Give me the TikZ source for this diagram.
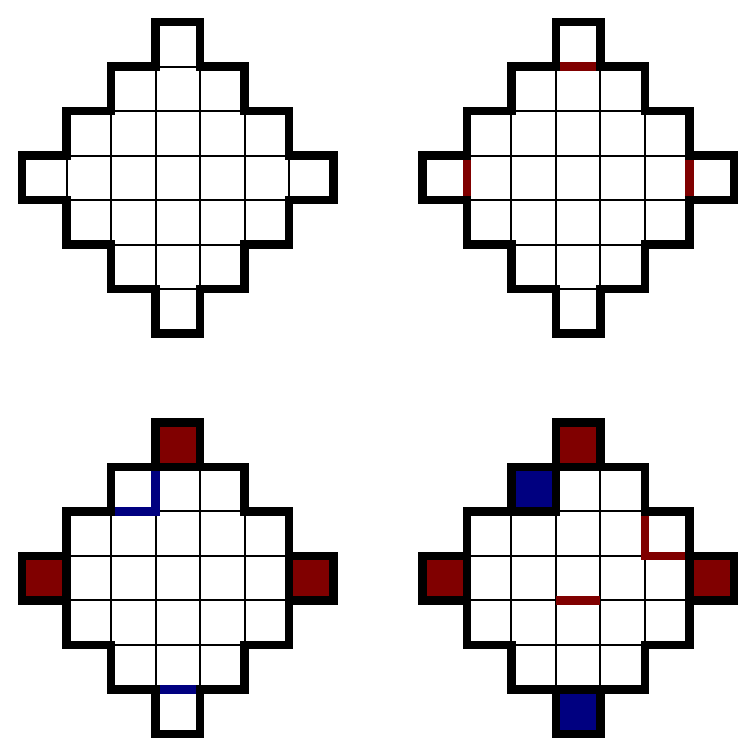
\documentclass[tikz,border=0pt]{standalone}
\usepackage{tikz}
\definecolor{wallred}{HTML}{800000}
\definecolor{wallblue}{HTML}{000080}

\begin{document}
\begin{tikzpicture}[line join=miter,
  gridline/.style={line width=0.045cm},
  outline/.style={line width=0.19cm},
  redwall/.style={line width=0.19cm, wallred},
  bluewall/.style={line width=0.19cm, wallblue},
  redcell/.style={outline, fill=wallred},
  bluecell/.style={outline, fill=wallblue}]

\useasboundingbox (0,0) rectangle (17,17);

\foreach \dx/\dy in {0.5/9.5, 9.5/9.5, 0.5/0.5, 9.5/0.5}
  \foreach \y/\a/\b in {6/3/3, 5/2/4, 4/1/5, 3/0/6, 2/1/5, 1/2/4, 0/3/3}
    \foreach \x in {\a,...,\b}
      \draw[gridline, shift={(\dx,\dy)}] (\x,\y) rectangle ++(1,1);

\begin{scope}[shift={(9.5,9.5)}]
\draw[redwall] (3,6) -- (4,6);
\draw[redwall] (1,3) -- (1,4);
\draw[redwall] (6,3) -- (6,4);
\end{scope}

\begin{scope}[shift={(0.5,0.5)}]
\draw[bluewall] (3,6) -- (3,5) -- (2,5);
\draw[bluewall] (3,1) -- (4,1);
\filldraw[redcell] (3,6) rectangle (4,7);
\filldraw[redcell] (0,3) rectangle (1,4);
\filldraw[redcell] (6,3) rectangle (7,4);
\end{scope}

\begin{scope}[shift={(9.5,0.5)}]
\draw[redwall] (5,5) -- (5,4) -- (6,4);
\draw[redwall] (3,3) -- (4,3);
\filldraw[redcell] (3,6) rectangle (4,7);
\filldraw[redcell] (0,3) rectangle (1,4);
\filldraw[redcell] (6,3) rectangle (7,4);
\filldraw[bluecell] (2,5) rectangle (3,6);
\filldraw[bluecell] (3,0) rectangle (4,1);
\end{scope}

\foreach \dx/\dy in {0.5/9.5, 9.5/9.5, 0.5/0.5, 9.5/0.5}
  \draw[outline, shift={(\dx,\dy)}] (3,7) -- (4,7) -- (4,6) -- (5,6) -- (5,5) -- (6,5)
    -- (6,4) -- (7,4) -- (7,3) -- (6,3) -- (6,2) -- (5,2) -- (5,1) -- (4,1) -- (4,0)
    -- (3,0) -- (3,1) -- (2,1) -- (2,2) -- (1,2) -- (1,3) -- (0,3) -- (0,4) -- (1,4)
    -- (1,5) -- (2,5) -- (2,6) -- (3,6) -- cycle;

\end{tikzpicture}
\end{document}
